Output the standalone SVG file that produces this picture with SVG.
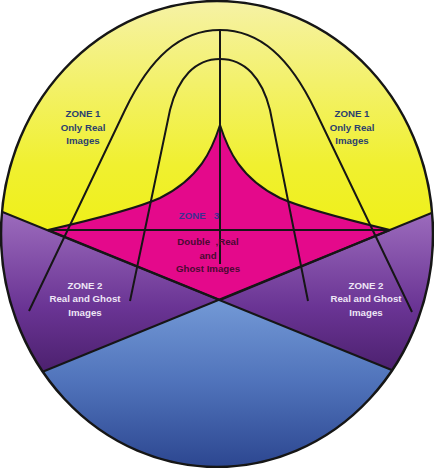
<svg xmlns="http://www.w3.org/2000/svg" width="434" height="468" viewBox="0 0 434 468">
<defs>
<clipPath id="ell"><ellipse cx="217" cy="234" rx="216" ry="233"/></clipPath>
<linearGradient id="gY" x1="0" y1="0" x2="0" y2="300" gradientUnits="userSpaceOnUse">
<stop offset="0" stop-color="#f6f2a6"/><stop offset="0.55" stop-color="#f0f030"/><stop offset="1" stop-color="#eef000"/>
</linearGradient>
<linearGradient id="gP" x1="0" y1="205" x2="0" y2="410" gradientUnits="userSpaceOnUse">
<stop offset="0" stop-color="#a070c0"/><stop offset="0.5" stop-color="#6a3494"/><stop offset="1" stop-color="#3a1558"/>
</linearGradient>
<linearGradient id="gB" x1="0" y1="300" x2="0" y2="468" gradientUnits="userSpaceOnUse">
<stop offset="0" stop-color="#7399d6"/><stop offset="0.5" stop-color="#4f72ba"/><stop offset="1" stop-color="#2c4690"/>
</linearGradient>
<style>
.ln{fill:none;stroke:#161616;stroke-width:2;stroke-linejoin:round}
.t{font-family:"Liberation Sans",Arial,sans-serif;font-weight:bold;font-size:9.7px;text-anchor:middle}
.z1{fill:#2b3f6e}
.z2{fill:#eee6f6}
.z3a{fill:#402e92}
.z3b{fill:#4a0a32}
</style>
</defs>
<g id="regions" clip-path="url(#ell)">
<rect x="-10" y="-10" width="454" height="490" fill="url(#gP)"/>
<polygon points="-10,-10 444,-10 444,207.9 220,300 -10,207" fill="url(#gY)"/>
<polygon points="220,300 444,391 444,480 -10,480 -10,393" fill="url(#gB)"/>
</g>
<g id="zone3-shape">
<path d="M48,230 C100,218 140,207 160,198 C200,178 212,150 220,125 C228,150 240,178 280,198 C300,207 340,218 390,230 L220,300 Z" fill="#e4098b" stroke="#161616" stroke-width="2" stroke-linejoin="round"/>
</g>
<g id="connectors" class="ln" clip-path="url(#ell)">
<line x1="-5" y1="209" x2="420" y2="381.5"/>
<line x1="440" y1="209.5" x2="20" y2="381"/>
<line x1="48" y1="230" x2="390" y2="230"/>
<line x1="220" y1="30" x2="220" y2="264"/>
<path d="M29,311 L125,110 C150,58 180,30 220,30 C260,30 290,58 315,110 L412,312"/>
<path d="M130,301 L170,110 C178,78 195,59 220,59 C245,59 262,78 270,110 L308,301"/>
</g>
<g id="outline">
<ellipse cx="217" cy="234" rx="216" ry="233" fill="none" stroke="#161616" stroke-width="2.5"/>
</g>
<g id="zone1-left" class="t z1">
<text x="83" y="117">ZONE 1</text>
<text x="83" y="130.5">Only Real</text>
<text x="83" y="144">Images</text>
</g>
<g id="zone1-right" class="t z1">
<text x="352" y="117">ZONE 1</text>
<text x="352" y="130.5">Only Real</text>
<text x="352" y="144">Images</text>
</g>
<g id="zone3" class="t">
<text class="z3a" x="199" y="218.5" xml:space="preserve">ZONE   3</text>
<text class="z3b" x="208" y="244.5" xml:space="preserve">Double  ,Real</text>
<text class="z3b" x="208" y="258.5">and</text>
<text class="z3b" x="208" y="271.5">Ghost Images</text>
</g>
<g id="zone2-left" class="t z2">
<text x="85" y="288.5">ZONE 2</text>
<text x="85" y="301.5">Real and Ghost</text>
<text x="85" y="315.5">Images</text>
</g>
<g id="zone2-right" class="t z2">
<text x="366" y="288.5">ZONE 2</text>
<text x="366" y="301.5">Real and Ghost</text>
<text x="366" y="315.5">Images</text>
</g>
</svg>
